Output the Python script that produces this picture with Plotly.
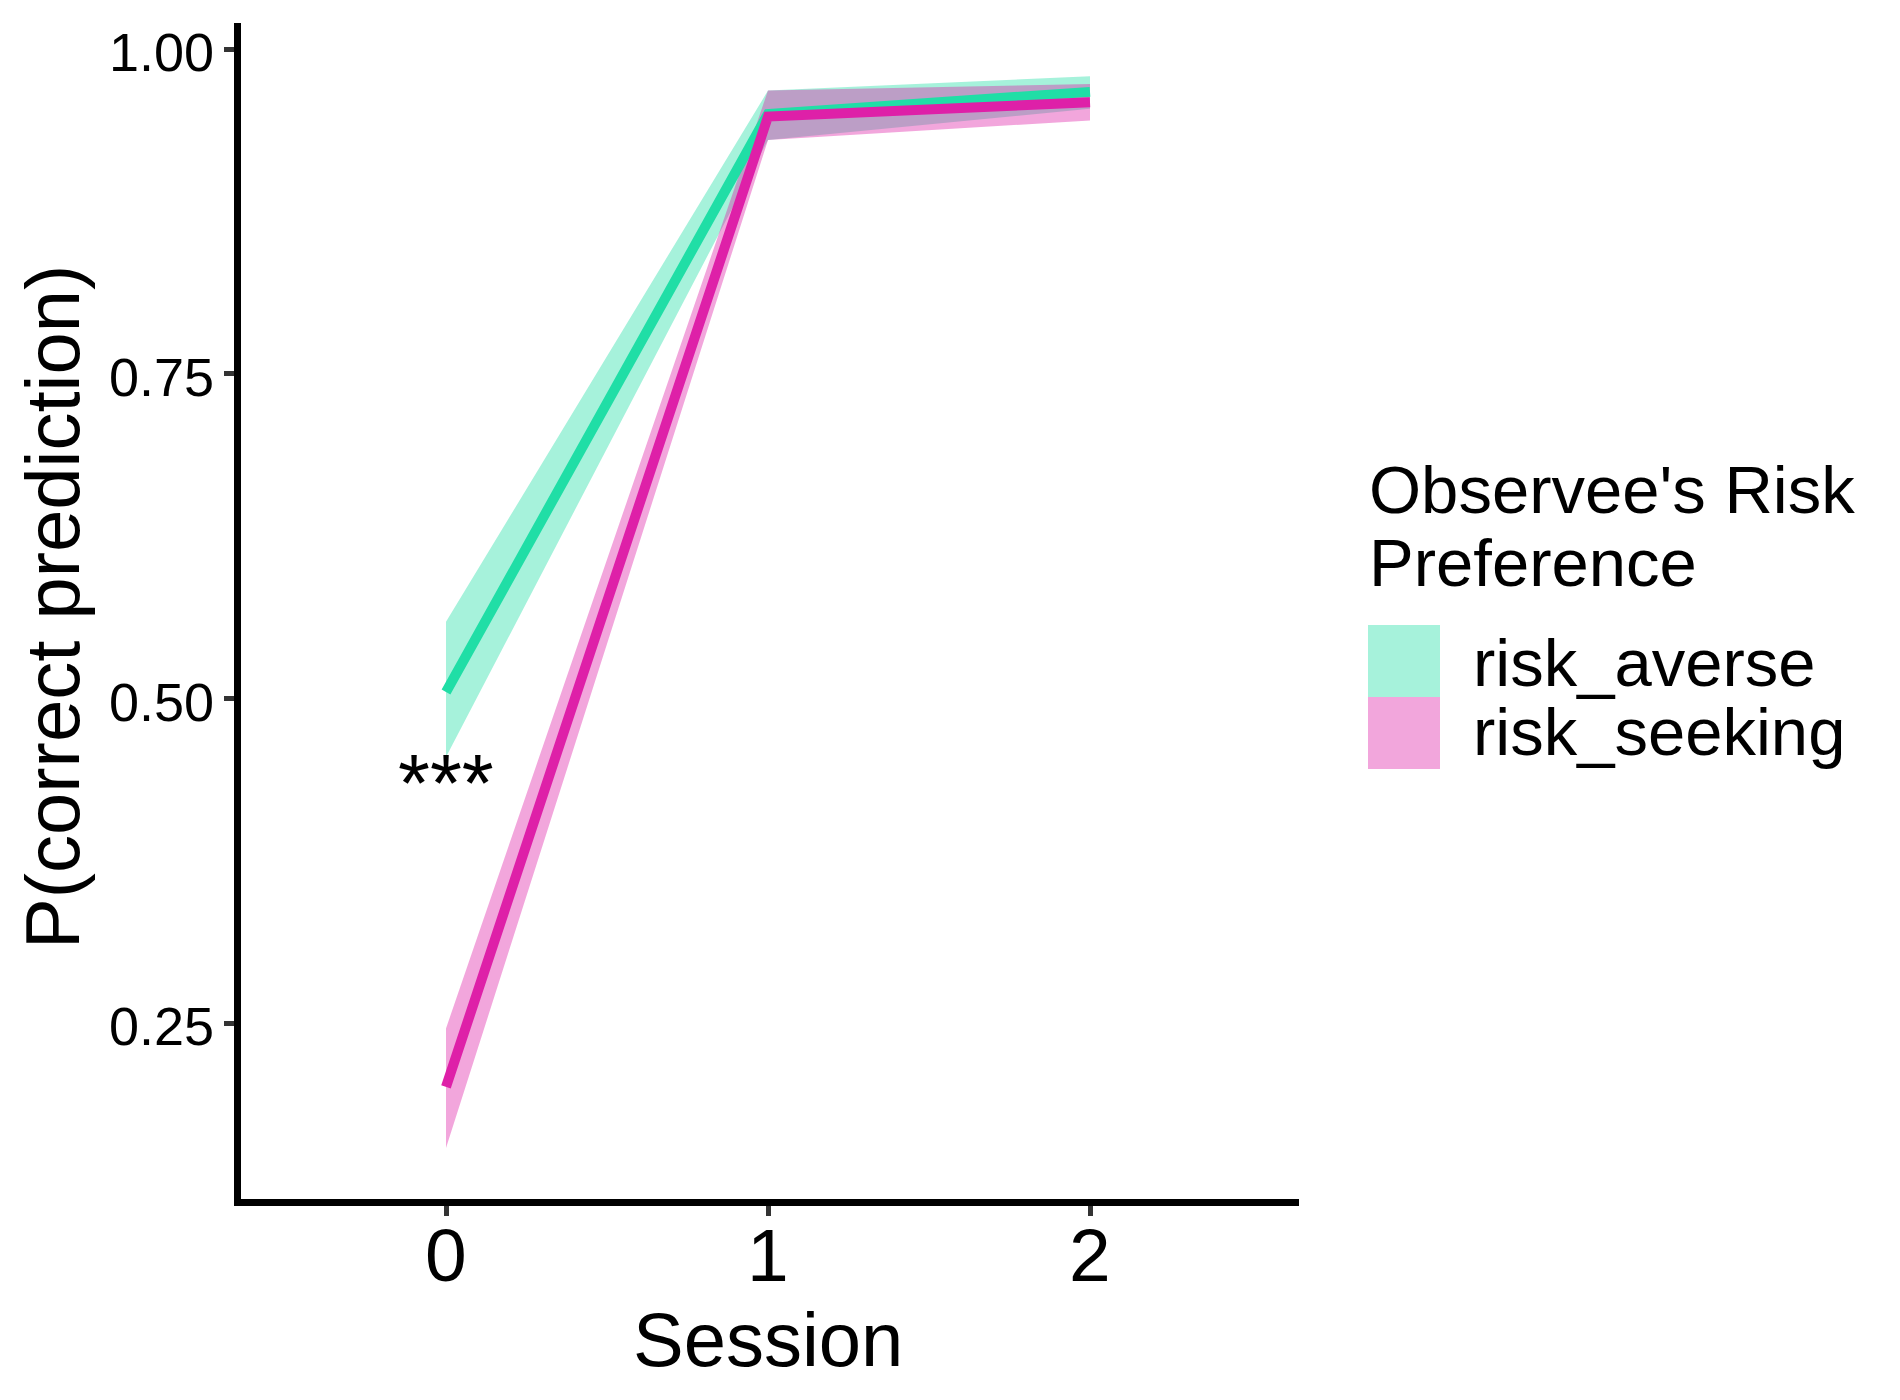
import plotly.graph_objects as go

# ---- data ----
sessions = [0, 1, 2]
groups = ["risk_averse", "risk_seeking"]
averse_mean = [0.505, 0.950, 0.967]
averse_lo = [0.455, 0.930, 0.954]
averse_hi = [0.559, 0.968, 0.979]
seeking_mean = [0.201, 0.948, 0.959]
seeking_lo = [0.154, 0.930, 0.945]
seeking_hi = [0.246, 0.968, 0.973]
y_ticks = [0.25, 0.50, 0.75, 1.00]
y_tick_labels = ["0.25", "0.50", "0.75", "1.00"]
x_ticks = [0, 1, 2]
x_tick_labels = ["0", "1", "2"]
sig_label = "***"
sig_x = 0
sig_y = 0.435

# ---- style ----
W, H = 1900, 1400
OFF = 8  # page body margin
PL, PR, PT, PB = 241, 1299, 23, 1199  # plot area in page pixels
FONT = "Liberation Sans, Arial, sans-serif"
GREEN = "#20DEA6"
PINK = "#DE20A8"
GREEN_FILL = "rgba(32,222,166,0.4)"
PINK_FILL = "rgba(222,32,168,0.4)"


def px(xp):
    return (xp - PL) / (PR - PL)


def py(yp):
    return (PB - yp) / (PB - PT)


fig = go.Figure()

series = [
    (averse_mean, averse_lo, averse_hi, GREEN, GREEN_FILL, groups[0]),
    (seeking_mean, seeking_lo, seeking_hi, PINK, PINK_FILL, groups[1]),
]

for mean, lo, hi, col, fill, name in series:
    fig.add_trace(go.Scatter(
        x=sessions + sessions[::-1],
        y=hi + lo[::-1],
        fill="toself", fillcolor=fill, line=dict(width=0, color=fill),
        mode="lines", hoverinfo="skip", showlegend=False, name=name,
    ))

for mean, lo, hi, col, fill, name in series:
    fig.add_trace(go.Scatter(
        x=sessions, y=mean, mode="lines",
        line=dict(color=col, width=10), showlegend=False, name=name,
    ))

annotations = []
# tick labels
for t, lab in zip(x_ticks, x_tick_labels):
    annotations.append(dict(x=t, y=py(1255), xref="x", yref="paper", text=lab,
                            showarrow=False, xanchor="center", yanchor="middle",
                            font=dict(family=FONT, size=75, color="black")))
for t, lab in zip(y_ticks, y_tick_labels):
    annotations.append(dict(x=px(216), y=t, xref="paper", yref="y", text=lab,
                            showarrow=False, xanchor="right", yanchor="middle", yshift=-3,
                            font=dict(family=FONT, size=54, color="black")))
# significance stars
annotations.append(dict(x=sig_x, y=sig_y, xref="x", yref="y", text=sig_label,
                        showarrow=False, xanchor="center", yanchor="middle",
                        font=dict(family=FONT, size=82, color="black")))
# axis titles
annotations.append(dict(x=px(768), y=py(1339), xref="paper", yref="paper",
                        text="Session", showarrow=False, xanchor="center", yanchor="middle",
                        font=dict(family=FONT, size=76, color="black")))
annotations.append(dict(x=px(52), y=py(607), xref="paper", yref="paper",
                        text="P(correct prediction)", textangle=-90, showarrow=False,
                        xanchor="center", yanchor="middle",
                        font=dict(family=FONT, size=76, color="black")))
# legend title
annotations.append(dict(x=px(1367), y=py(490), xref="paper", yref="paper",
                        text="Observee's Risk", showarrow=False, xanchor="left", yanchor="middle",
                        font=dict(family=FONT, size=67, color="black")))
annotations.append(dict(x=px(1367), y=py(562), xref="paper", yref="paper",
                        text="Preference", showarrow=False, xanchor="left", yanchor="middle",
                        font=dict(family=FONT, size=67, color="black")))
# legend labels
label_y = [662, 732]
for g, ly in zip(groups, label_y):
    annotations.append(dict(x=px(1471), y=py(ly), xref="paper", yref="paper",
                            text=g, showarrow=False, xanchor="left", yanchor="middle",
                            font=dict(family=FONT, size=67, color="black")))

shapes = []
key_tops = [625, 697]
for fill, top in zip([GREEN_FILL, PINK_FILL], key_tops):
    shapes.append(dict(type="rect", xref="paper", yref="paper",
                       x0=px(1368), x1=px(1440), y0=py(top + 72), y1=py(top),
                       fillcolor=fill, line=dict(width=0)))

x_lo = (PL - 446) / 322.0
x_hi = 2 + (PR - 1090) / 322.0
y_lo = 1 - (PB - 49) / 1299.0
y_hi = 1 - (PT - 49) / 1299.0

fig.update_layout(
    width=W - OFF, height=H - OFF,
    margin=dict(l=PL - OFF, r=W - PR, t=PT - OFF, b=H - PB, pad=0),
    paper_bgcolor="white", plot_bgcolor="white",
    showlegend=False,
    annotations=annotations, shapes=shapes,
    xaxis=dict(range=[x_lo, x_hi], tickvals=x_ticks, showticklabels=False,
               showgrid=False, zeroline=False, showline=True, linecolor="black", linewidth=7,
               ticks="outside", ticklen=10, tickwidth=5, tickcolor="#333333"),
    yaxis=dict(range=[y_lo, y_hi], tickvals=y_ticks, showticklabels=False,
               showgrid=False, zeroline=False, showline=True, linecolor="black", linewidth=7,
               ticks="outside", ticklen=10, tickwidth=5, tickcolor="#333333"),
)

fig.write_html("out.html")
